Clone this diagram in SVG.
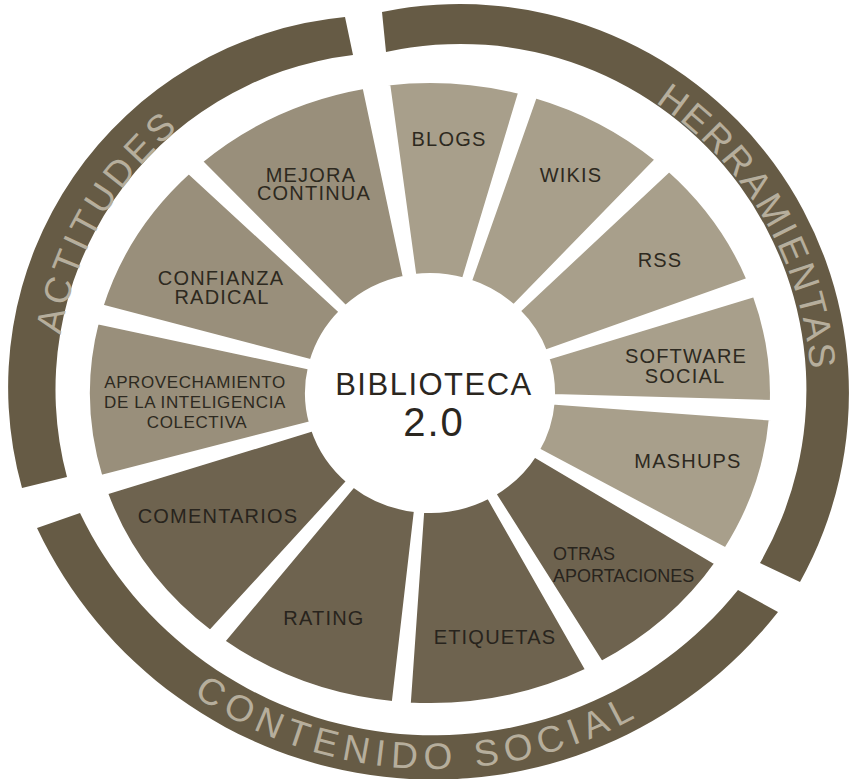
<svg xmlns="http://www.w3.org/2000/svg" width="850" height="779" viewBox="0 0 850 779">
<style>
.ring{fill:#665b45}
.ringtxt{fill:#b6ae9c;font-family:'Liberation Sans',Arial,sans-serif;font-size:37px}
.seg{stroke:#ffffff;stroke-width:5;stroke-linejoin:miter}
.tool{fill:#a89f8b}
.att{fill:#998f7b}
.soc{fill:#6e634f}
.lbl{font-family:'Liberation Sans',Arial,sans-serif;font-size:20px;fill:#2d2920;text-anchor:middle;letter-spacing:1.2px}
.sm{font-size:17px;letter-spacing:0.6px}
.dk{fill:#28241d}
.ctr{font-family:'Liberation Sans',Arial,sans-serif;fill:#2b271f;text-anchor:middle}
</style>
<defs>
<path id="pAct" d="M 61.2 451.7 A 344 344 0 0 1 282.3 68.7"/>
<path id="pHer" d="M 607.8 76 A 352 352 0 0 1 809.7 425.7"/>
<path id="pCon" d="M 106.7 616.8 A 426 426 0 0 0 734.2 644.2"/>
</defs>
<rect width="850" height="779" fill="#ffffff"/>

<g id="ring-actitudes">
<path class="ring" d="M 22 488 A 372 372 0 0 1 345 17 L 353 55 A 337 337 0 0 0 67 477 Z"/>
<text class="ringtxt" style="letter-spacing:4px"><textPath href="#pAct" startOffset="50%" text-anchor="middle">ACTITUDES</textPath></text>
</g>
<g id="ring-herramientas">
<path class="ring" d="M 382 12 A 389 389 0 0 1 800 582 L 760 563 A 346 346 0 0 0 386 52 Z"/>
<text class="ringtxt" style="letter-spacing:2.5px"><textPath href="#pHer" startOffset="50%" text-anchor="middle">HERRAMIENTAS</textPath></text>
</g>
<g id="ring-contenido-social">
<path class="ring" d="M 778 612 A 438 438 0 0 1 37 528 L 80 513 A 392 392 0 0 0 738 590 Z"/>
<text class="ringtxt" style="letter-spacing:6.5px"><textPath href="#pCon" startOffset="50%" text-anchor="middle">CONTENIDO SOCIAL</textPath></text>
</g>

<g id="blogs">
<path class="seg tool" d="M 414.0 276.5 L 387.5 82.9 A 342.5 312.5 0 0 1 520.9 91.7 L 464.1 280.1 A 122.5 117.5 0 0 0 414.0 276.5 Z"/>
<text class="lbl" x="449" y="146">BLOGS</text>
</g>
<g id="wikis">
<path class="seg tool" d="M 469.2 281.7 L 534.8 95.5 A 342.5 312.5 0 0 1 657.7 159.6 L 513.7 307.2 A 122.5 117.5 0 0 0 469.2 281.7 Z"/>
<text class="lbl" x="571" y="182">WIKIS</text>
</g>
<g id="rss">
<path class="seg tool" d="M 517.7 310.9 L 669.1 169.2 A 342.5 312.5 0 0 1 749.3 279.9 L 544.9 352.3 A 122.5 117.5 0 0 0 517.7 310.9 Z"/>
<text class="lbl" x="660" y="267">RSS</text>
</g>
<g id="software-social">
<path class="seg tool" d="M 546.8 357.5 L 754.9 294.3 A 342.5 312.5 0 0 1 772.3 402.6 L 552.5 396.4 A 122.5 117.5 0 0 0 546.8 357.5 Z"/>
<text class="lbl"><tspan x="686" y="363">SOFTWARE</tspan><tspan x="685" y="383">SOCIAL</tspan></text>
</g>
<g id="mashups">
<path class="seg tool" d="M 552.2 402.0 L 771.4 418.1 A 342.5 312.5 0 0 1 725.9 550.3 L 537.1 450.0 A 122.5 117.5 0 0 0 552.2 402.0 Z"/>
<text class="lbl" x="688" y="468">MASHUPS</text>
</g>
<g id="otras-aportaciones">
<path class="seg soc" d="M 534.3 454.6 L 717.4 563.0 A 342.5 312.5 0 0 1 601.1 663.7 L 493.5 493.5 A 122.5 117.5 0 0 0 534.3 454.6 Z"/>
<text class="lbl dk" style="text-anchor:start;font-size:18px;letter-spacing:0"><tspan x="553" y="560">OTRAS</tspan><tspan x="553" y="582">APORTACIONES</tspan></text>
</g>
<g id="etiquetas">
<path class="seg soc" d="M 488.8 496.1 L 588.1 670.2 A 342.5 312.5 0 0 1 408.2 704.9 L 421.8 510.2 A 122.5 117.5 0 0 0 488.8 496.1 Z"/>
<text class="lbl dk" x="495" y="644">ETIQUETAS</text>
</g>
<g id="rating">
<path class="seg soc" d="M 416.5 509.8 L 394.1 703.7 A 342.5 312.5 0 0 1 222.3 641.5 L 353.4 484.7 A 122.5 117.5 0 0 0 416.5 509.8 Z"/>
<text class="lbl dk" x="324" y="625">RATING</text>
</g>
<g id="comentarios">
<path class="seg soc" d="M 349.1 481.3 L 210.3 632.8 A 342.5 312.5 0 0 1 105.2 492.3 L 313.3 428.7 A 122.5 117.5 0 0 0 349.1 481.3 Z"/>
<text class="lbl dk" x="218" y="523">COMENTARIOS</text>
</g>
<g id="aprovechamiento">
<path class="seg att" d="M 311.6 423.4 L 100.3 477.7 A 342.5 312.5 0 0 1 96.6 321.5 L 310.4 367.4 A 122.5 117.5 0 0 0 311.6 423.4 Z"/>
<text class="lbl sm"><tspan x="195" y="388">APROVECHAMIENTO</tspan><tspan x="195" y="408">DE LA INTELIGENCIA</tspan><tspan x="197" y="428">COLECTIVA</tspan></text>
</g>
<g id="confianza-radical">
<path class="seg att" d="M 311.8 362.0 L 100.8 306.6 A 342.5 312.5 0 0 1 188.8 171.2 L 341.6 311.7 A 122.5 117.5 0 0 0 311.8 362.0 Z"/>
<text class="lbl"><tspan x="221" y="285">CONFIANZA</tspan><tspan x="222" y="304">RADICAL</tspan></text>
</g>
<g id="mejora-continua">
<path class="seg att" d="M 345.5 307.9 L 200.0 161.4 A 342.5 312.5 0 0 1 364.8 86.3 L 405.5 277.9 A 122.5 117.5 0 0 0 345.5 307.9 Z"/>
<text class="lbl"><tspan x="311" y="182">MEJORA</tspan><tspan x="314" y="200">CONTINUA</tspan></text>
</g>

<g id="biblioteca">
<text class="ctr" style="letter-spacing:1.5px"><tspan x="434" y="395" style="font-size:31px">BIBLIOTECA</tspan><tspan x="434" y="436" style="font-size:40px;letter-spacing:2px">2.0</tspan></text>
</g>

<g id="connectors"></g>
</svg>
